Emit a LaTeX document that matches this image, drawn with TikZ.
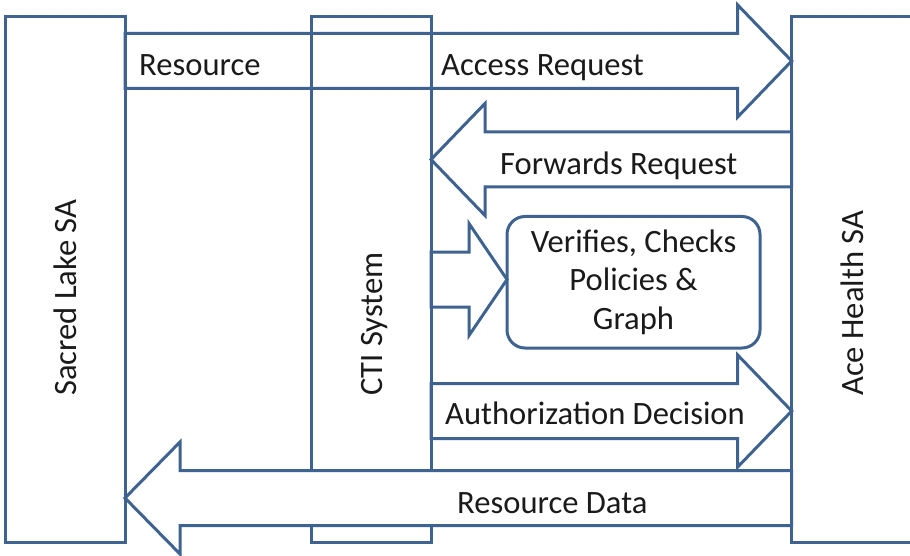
\documentclass[tikz,border=0pt]{standalone}
\usepackage{fontspec}
\setmainfont{Carlito}
\usetikzlibrary{calc}
\definecolor{edge}{RGB}{63,99,144}
\definecolor{txt}{RGB}{26,26,26}

% Block arrow from a tail point to a tip point on the same height;
% #4 is the signed head length (positive points right, negative left).
\newcommand\blockarrow[4][]{%
  \draw[arrowline,#1] let \p1=(#2), \p2=(#3) in
    (\x1,{\y1+27.5pt}) -- ({\x2-(#4)*1pt},{\y1+27.5pt})
    -- ({\x2-(#4)*1pt},{\y1+56pt}) -- (\x2,\y1)
    -- ({\x2-(#4)*1pt},{\y1-56pt}) -- ({\x2-(#4)*1pt},{\y1-27.5pt})
    -- (\x1,{\y1-27.5pt}) -- cycle;}

\begin{document}
\begin{tikzpicture}[x=1pt,y=-1pt,
  outline/.style={draw=edge,line width=3pt},
  block/.style={outline,outer sep=0pt,inner sep=0pt,rectangle},
  arrowline/.style={outline,line join=miter},
  lbl/.style={inner sep=0pt,text=txt,font=\fontsize{32.6}{38.5}\selectfont}]
\clip (0,0) rectangle (910,556);
\fill[white] (0,0) rectangle (910,556);

% the three parties
\node[block,minimum width=120,minimum height=525] (lake) at (65,279.5) {};
\node[block,minimum width=120,minimum height=525] (cti) at (371,279.5) {};
\node[block,minimum width=148.3,minimum height=525] (ace) at (865.85,279.5) {};

% heights of the message arrows
\coordinate (yAcc) at (0,61);
\coordinate (yFwd) at (0,159.5);
\coordinate (yChk) at (0,279.5);
\coordinate (yAuth) at (0,411);
\coordinate (yData) at (0,498);

% policy check box
\node[block,rounded corners=18,minimum width=253,minimum height=131.5,
      lbl,align=center,yshift=-3] (chk) at (633.5,279.25)
  {Verifies, Checks\\Policies \&\\Graph};

% message arrows
\blockarrow{lake.east |- yAcc}{ace.west |- yAcc}{54}
\blockarrow{ace.west |- yFwd}{cti.east |- yFwd}{-54}
\blockarrow{cti.east |- yChk}{chk.west |- yChk}{38}
\blockarrow{cti.east |- yAuth}{ace.west |- yAuth}{54}
\blockarrow[fill=white]{ace.west |- yData}{lake.east |- yData}{-55}

% labels
\node[lbl,anchor=base west] (tRes) at (139,76) {Resource};
\node[lbl,anchor=base west] (tAcc) at (441,76) {Access Request};
\node[lbl,anchor=base west] (tFwd) at (500,175) {Forwards Request};
\node[lbl,anchor=base west] (tAuth) at (445,424) {Authorization Decision};
\node[lbl,anchor=base west] (tData) at (457,513) {Resource Data};
\node[lbl,rotate=90,anchor=base west] (tLake) at (76,396) {Sacred Lake SA};
\node[lbl,rotate=90,anchor=base west] (tCti) at (382,396) {CTI System};
\node[lbl,rotate=90,anchor=base west] (tAce) at (863,396) {Ace Health SA};
\end{tikzpicture}
\end{document}
